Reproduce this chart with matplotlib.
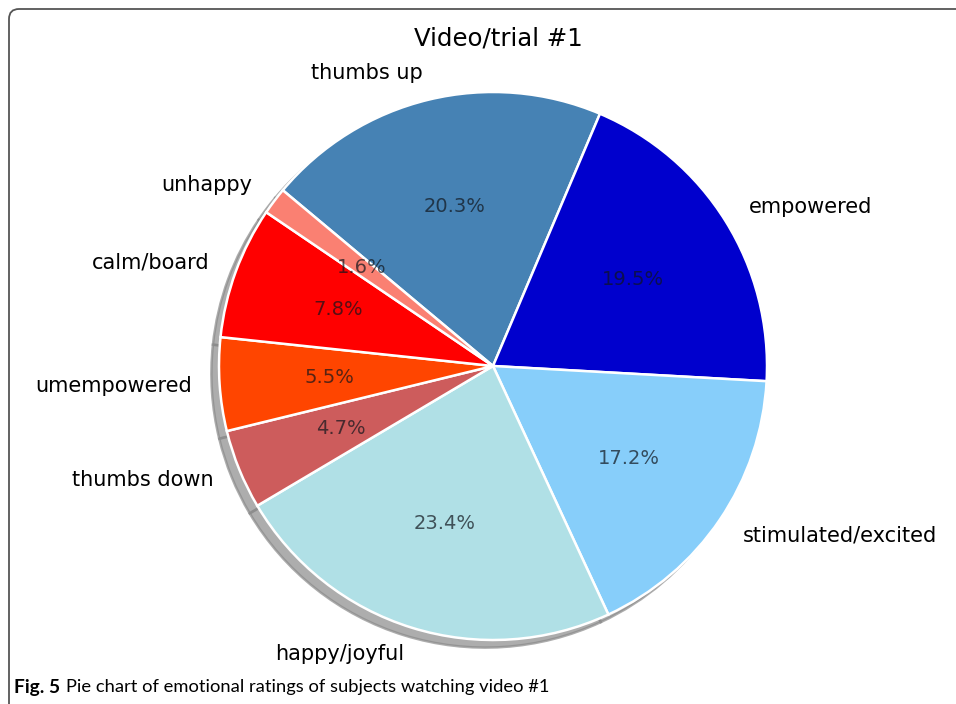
import matplotlib
matplotlib.use("Agg")
import matplotlib.pyplot as plt
from matplotlib.patches import FancyBboxPatch

labels = ["thumbs up", "empowered", "stimulated/excited", "happy/joyful",
          "thumbs down", "umempowered", "calm/board", "unhappy"]
shares = [20.3, 19.5, 17.2, 23.4, 4.7, 5.5, 7.8, 1.6]
colors = ["steelblue", "mediumblue", "lightskyblue", "powderblue",
          "indianred", "orangered", "red", "salmon"]

W, H = 956, 704
fig = plt.figure(figsize=(W / 100, H / 100), dpi=100)
fig.patch.set_facecolor("white")

# frame round the figure, open to the right and bottom
frame = FancyBboxPatch((0.09, -0.5), 12, 7.45,
                       boxstyle="round,pad=0,rounding_size=0.1",
                       transform=fig.dpi_scale_trans, fill=False,
                       edgecolor="#555555", linewidth=1.3)
fig.patches.append(frame)

ax = fig.add_axes([0, 0, 1, 1])
wedges, texts, autotexts = ax.pie(
    shares, labels=labels, colors=colors, autopct="%1.1f%%",
    startangle=140.1, counterclock=False,
    shadow=dict(ox=-0.02, oy=-0.02, facecolor="#8a8a8a",
                edgecolor="#8a8a8a", alpha=0.7),
    wedgeprops=dict(edgecolor="white", linewidth=1.8),
    textprops=dict(fontsize=15))
for t in autotexts:
    t.set_color("#10151c")
    t.set_alpha(0.7)
    t.set_fontsize(14)

# place the pie: centre at (493, 366) px from top-left, radius 274 px
cx, cy, r = 493, H - 366, 274
ax.set_xlim(-cx / r, (W - cx) / r)
ax.set_ylim(-cy / r, (H - cy) / r)
ax.set_aspect("auto")
ax.axis("off")

fig.text(498 / W, 1 - 38 / H, "Video/trial #1", ha="center", va="center",
         fontsize=17.6)

cap_font = ["Lato", "DejaVu Sans"]
fig.text(14 / W, 1 - 687 / H, "Fig. 5", ha="left", va="center",
         fontsize=13.8, fontweight="bold", family=cap_font)
fig.text(66 / W, 1 - 687 / H,
         "Pie chart of emotional ratings of subjects watching video #1",
         ha="left", va="center", fontsize=13.2, family=cap_font)

fig.savefig("out.png", dpi=100)
